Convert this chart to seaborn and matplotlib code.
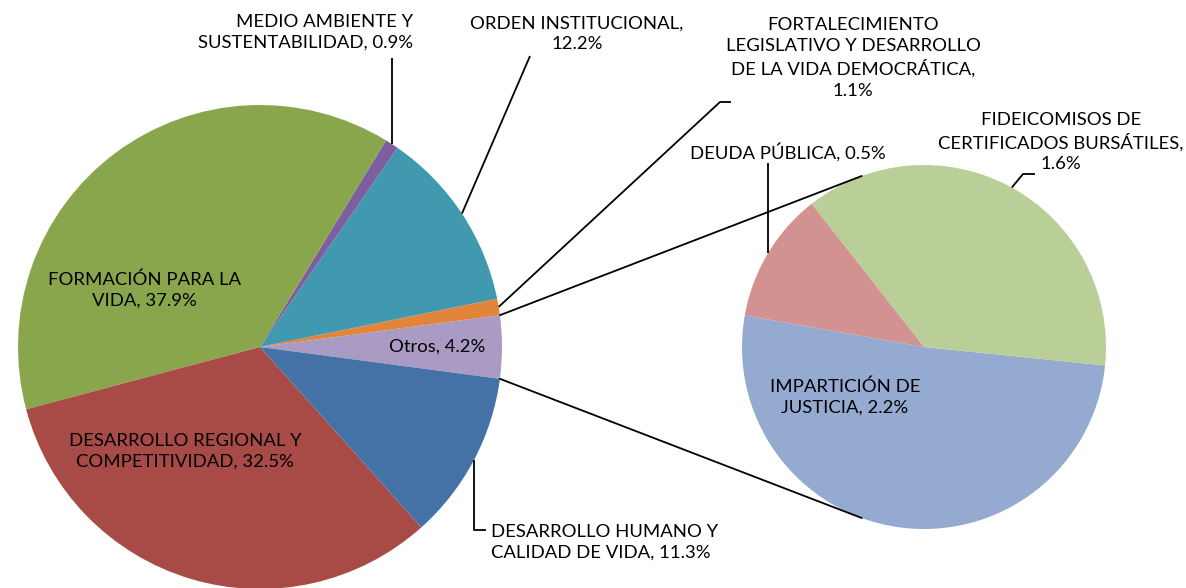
import matplotlib
matplotlib.use("Agg")
import matplotlib.pyplot as plt
import numpy as np
import seaborn as sns

# ── Data ─────────────────────────────────────────────────────────────────────
main_labels = [
    "Otros, 4.2%",
    "FORTALECIMIENTO\nLEGISLATIVO Y DESARROLLO\nDE LA VIDA DEMOCRÁTICA,\n1.1%",
    "ORDEN INSTITUCIONAL,\n12.2%",
    "MEDIO AMBIENTE Y\nSUSTENTABILIDAD, 0.9%",
    "FORMACIÓN PARA LA\nVIDA, 37.9%",
    "DESARROLLO REGIONAL Y\nCOMPETITIVIDAD, 32.5%",
    "DESARROLLO HUMANO Y\nCALIDAD DE VIDA, 11.3%",
]
main_values = [4.2, 1.1, 12.2, 0.9, 37.9, 32.5, 11.3]
main_colors = ["#A99BC4", "#E2853B", "#4199B0", "#7D5FA0",
               "#8AA64D", "#A84A46", "#4472A6"]

sub_labels = [
    "IMPARTICIÓN DE\nJUSTICIA, 2.2%",
    "FIDEICOMISOS DE\nCERTIFICADOS BURSÁTILES,\n1.6%",
    "DEUDA PÚBLICA, 0.5%",
]
sub_values = [2.2, 1.6, 0.5]
sub_colors = ["#95AAD1", "#B9CF97", "#D19291"]

# ── Layout (pixel coordinates, y measured from top) ─────────────────────────
W, H = 1186, 588
MAIN_C, MAIN_R = (260, 347), 242
SUB_C, SUB_R = (924, 347), 182


def Y(y):
    return H - y


def edge(center, r, ang):
    a = np.deg2rad(ang)
    return center[0] + r * np.cos(a), Y(center[1]) + r * np.sin(a)


def mid(w):
    return (w.theta1 + w.theta2) / 2


sns.set_theme(style="white")
plt.rcParams["font.family"] = ["Lato", "DejaVu Sans"]

fig = plt.figure(figsize=(W / 100, H / 100), dpi=100)
ax = fig.add_axes([0, 0, 1, 1])

start = -main_values[0] / sum(main_values) * 360 / 2
main_w, _ = ax.pie(main_values, colors=main_colors, startangle=start,
                   counterclock=True, center=(MAIN_C[0], Y(MAIN_C[1])),
                   radius=MAIN_R, wedgeprops={"linewidth": 0})
sub_w, _ = ax.pie(sub_values, colors=sub_colors, startangle=170,
                  counterclock=True, center=(SUB_C[0], Y(SUB_C[1])),
                  radius=SUB_R, wedgeprops={"linewidth": 0})

# pie() resets the limits, so set them afterwards
ax.set_xlim(0, W)
ax.set_ylim(0, H)
ax.set_aspect("equal")
ax.axis("off")

# connector lines from "Otros" to the secondary pie
for sign in (1, -1):
    p0 = edge(MAIN_C, MAIN_R, sign * main_w[0].theta2)
    p1 = edge(SUB_C, SUB_R, sign * 110)
    ax.plot([p0[0], p1[0]], [p0[1], p1[1]], color="black", lw=1.3)

TXT = dict(fontsize=13.3, color="black", linespacing=1.36)

# inside labels
ax.text(437, Y(347), main_labels[0], ha="center", va="center", **TXT)
ax.text(144, Y(290), main_labels[4], ha="center", va="center", **TXT)
ax.text(185, Y(451), main_labels[5], ha="center", va="center", **TXT)
ax.text(845, Y(397), sub_labels[0], ha="center", va="center", **TXT)


def leader(pts):
    ax.plot([p[0] for p in pts], [p[1] for p in pts], color="black",
            lw=1.3, solid_capstyle="butt")


# MEDIO AMBIENTE
p = edge(MAIN_C, MAIN_R, mid(main_w[3]))
leader([p, (p[0], Y(58))])
ax.text(413, Y(32), main_labels[3], ha="right", va="center",
        multialignment="right", **TXT)

# ORDEN INSTITUCIONAL
p = edge(MAIN_C, MAIN_R, mid(main_w[2]))
leader([p, (530, Y(56))])
ax.text(577, Y(34), main_labels[2], ha="center", va="center", **TXT)

# FORTALECIMIENTO
p = edge(MAIN_C, MAIN_R, mid(main_w[1]))
leader([p, (720, Y(102)), (731, Y(102))])
ax.text(853, Y(58), main_labels[1], ha="center", va="center", **TXT)

# DESARROLLO HUMANO
p = edge(MAIN_C, MAIN_R, mid(main_w[6]))
leader([p, (p[0], Y(530)), (486, Y(530))])
ax.text(491, Y(542), main_labels[6], ha="left", va="center", **TXT)

# DEUDA PÚBLICA
p = edge(SUB_C, SUB_R, mid(sub_w[2]))
leader([p, (p[0], Y(163))])
ax.text(788, Y(152), sub_labels[2], ha="center", va="center", **TXT)

# FIDEICOMISOS
p = edge(SUB_C, SUB_R, mid(sub_w[1]))
leader([p, (1023, Y(174)), (1035, Y(174))])
ax.text(1061, Y(142), sub_labels[1], ha="center", va="center", **TXT)

fig.savefig("out.png", dpi=100, facecolor="white")
